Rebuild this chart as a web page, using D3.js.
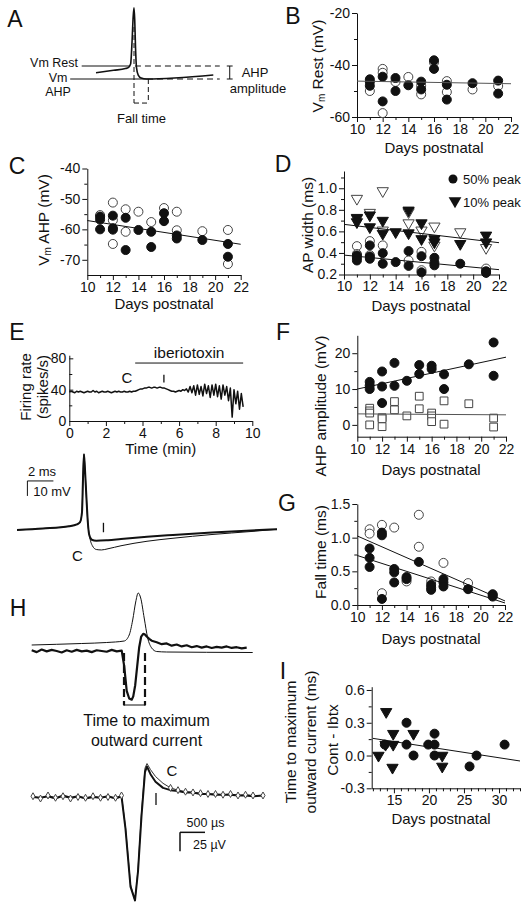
<!DOCTYPE html>
<html><head><meta charset="utf-8">
<script src="https://cdn.jsdelivr.net/npm/d3@7"></script>
<style>body{margin:0;background:#fff}</style>
</head><body>
<script>
// ================= DATA =================
const dayTicks = [10,12,14,16,18,20,22];
const dayMinor = [11,13,15,17,19,21];
// B: Vm rest
const bFilled = [[11,-45.5],[11,-46.5],[11,-48],[12,-44.5],[12,-54],[13,-45],[13,-50],[14,-47.8],[15,-46.4],[15,-49.4],[16,-38.2],[16,-41.5],[17,-47.6],[17,-53.3],[19,-47],[21,-46],[21,-51]];
const bOpen = [[11,-50],[12,-41.5],[12,-43],[12,-58.5],[13,-46.5],[14,-44.6],[15,-48],[15,-51.3],[16,-39],[17,-46.2],[17,-50.4],[19,-49.4],[21,-48.1]];
const bFit = [[10,-46.2],[22,-47.2]];
const bYTicks = [-60,-40,-20];
// C: Vm AHP
const cFilled = [[11,-55.8],[11,-56.8],[11,-60],[12,-55.5],[12,-59.6],[12,-60.1],[13,-56.2],[13,-66.8],[14,-60.2],[15,-60.8],[15,-65.8],[16,-54.7],[16,-57.3],[17,-62],[17,-63],[19,-63.5],[21,-64.8],[21,-69]];
const cOpen = [[11,-55.3],[12,-51.2],[12,-57],[12,-64.8],[13,-53.4],[13,-60.8],[14,-54.2],[15,-57.6],[16,-53],[17,-54.2],[17,-60.3],[19,-60.6],[21,-60.2],[21,-71.4]];
const cFit = [[10,-57.1],[22,-64.9]];
const cYTicks = [-70,-60,-50,-40];
// D: AP width
const dCircFilled = [[11,0.377],[11,0.355],[11,0.33],[12,0.47],[12,0.367],[12,0.346],[13,0.398],[13,0.3],[14,0.315],[15,0.417],[15,0.28],[16,0.37],[16,0.22],[17,0.355],[17,0.31],[17,0.285],[19,0.3],[21,0.23],[21,0.215]];
const dCircOpen = [[11,0.463],[11,0.39],[12,0.51],[12,0.38],[13,0.47],[15,0.33],[16,0.41],[16,0.24],[21,0.255]];
const dTriFilled = [[11,0.727],[11,0.687],[12,0.75],[12,0.64],[13,0.70],[13,0.58],[14,0.594],[15,0.795],[15,0.584],[16,0.677],[16,0.53],[17,0.53],[17,0.5],[19,0.485],[21,0.563],[21,0.5]];
const dTriOpen = [[11,0.904],[11,0.72],[12,0.774],[13,0.975],[13,0.61],[15,0.78],[15,0.677],[16,0.61],[17,0.647],[17,0.47],[19,0.594],[21,0.448]];
const dFitTri = [[10,0.665],[22,0.495]];
const dFitCirc = [[10,0.38],[22,0.245]];
const dYTicks = [0.2,0.4,0.6,0.8,1.0];
const dLegend = ["50% peak","10% peak"];
// E: firing rate (spikes/s) every 0.1 min from 0 to 9.5
const rateStep = 0.1;
const rate = [37,38,37,36,38,37,38,37,36,37, 38,37,37,39,37,38,36,37,38,37, 37,38,37,36,37,38,37,38,37,37,
  38,37,37,38,37,38,38,39,40,41, 41,42,42,43,43,42,43,43,42,43, 43,42,42,41,40,39,38,38,37,38,
  39,38,40,39,41,37,44,36,45,33, 46,34,44,32,47,35,45,30,46,33, 47,31,45,28,46,33,44,26,42,5,
  40,22,38,15,35,18];
const eXTicks = [0,2,4,6,8,10];
const eYTicks = [0,40,80];
// E lower: action potentials (ms, mV)
const apPreT = [0,2,4,4.6,4.85,5.0,5.08,5.15,5.22,5.35,5.45];
const apPreV = [-50,-49,-47.5,-46.3,-44.8,-38,-15,0.5,-8,-30,-45];
const apCT = [5.6,5.8,6.1,6.5,7.0,8,10,12,15,18,20];
const apCV = [-55,-60.5,-63,-63.3,-62.5,-60.5,-57.5,-55.5,-53,-51,-49.5];
const apIT = [5.55,5.75,6.1,7,8,10,12,15,18,20];
const apIV = [-53,-56.5,-57.2,-56.8,-56,-54.5,-53.3,-51.7,-50.3,-49.5];
// F: AHP amplitude
const fFilled = [[11,12.0],[11,11.0],[11,10.0],[12,14.9],[12,10.7],[12,6.1],[13,17.3],[13,10.9],[14,12.3],[15,16.7],[15,14.2],[16,16.5],[16,15.6],[17,14.1],[17,10.0],[19,16.9],[21,23.0],[21,13.7]];
const fOpen = [[11,4.65],[11,3.9],[11,3.3],[11,0],[12,2.0],[12,1.7],[12,-0.5],[13,6.5],[13,4.2],[14,2.5],[15,8.0],[15,4.5],[16,3.3],[16,2.5],[16,0.9],[17,6.7],[17,0.2],[19,5.9],[21,1.9],[21,-0.6]];
const fFitFilled = [[10,10],[22,18.9]];
const fFitOpen = [[10,3.07],[22,2.8]];
const fYTicks = [0,10,20];
// G: fall time
const gOpen = [[11,1.125],[11,1.06],[12,1.19],[12,0.175],[13,1.15],[14,0.35],[15,1.34],[15,0.865],[16,0.35],[17,0.625],[19,0.325],[21,0.15]];
const gFilled = [[11,0.84],[11,0.7],[11,0.565],[12,1.075],[12,1.035],[12,0.09],[13,0.535],[13,0.485],[13,0.335],[14,0.415],[14,0.385],[15,0.64],[16,0.3],[16,0.26],[16,0.225],[17,0.385],[17,0.335],[17,0.275],[19,0.235],[21,0.16],[21,0.125]];
const gFitOpen = [[10,1.025],[22,0.06]];
const gFitFilled = [[10,0.735],[22,0.03]];
const gYTicks = [0,0.5,1.0,1.5];
// H upper: thin AP (mV) and thick extracellular (uV), time in us
const hUpThinT = [0,500,1000,1500,1850,1950,2020,2080,2130,2180,2250,2320,2400,2500,2700,3500,4420];
const hUpThinV = [-55,-54.3,-53.5,-52.5,-51,-45,-30,-12,-3,-8,-28,-48,-58,-61.5,-62,-62.3,-62.5];
const hUpT = [0,100,200,300,400,500,600,700,800,900,1000,1100,1200,1300,1400,1500,1600,1700,1800,
  1850,1900,1950,2000,2030,2070,2110,2150,2190,2230,2260,2300,2350,2400,2450,2500,
  2600,2700,2800,2900,3000,3100,3200,3300,3400,3500,3600,3700,3800,3900,4000,4100,4200,4300];
const hUpV = [2,-3,4,-1,3,0,-4,2,-2,3,-1,1,-3,2,0,-2,3,-1,1,
  -40,-105,-125,-128,-120,-90,-40,10,38,45,44,38,32,27,25,23,
  18,20,14,17,12,15,10,13,9,12,8,11,9,12,8,10,7,9];
const hMarks = [1846,2266];
// H lower: control (C) and iberiotoxin (I), time in us, uV
const hLoT = [0,150,300,450,600,750,900,1050,1200,1350,1500,1650,1770,1850,1950,2040,2100,2170,2240,2280,2350,2450,2600,2750,2900,3050,3200,3350,3500,3650,3800,3950,4100,4250,4400,4600];
const hLoC = [1,-2,2,-1,1,-2,0,-1,1,-1,0,-1,2,-40,-115,-137,-95,-20,38,44,36,27,18,12,9,7,6,5,4,4,3,4,2,3,2,2];
const hLoI = [0,-1,1,-2,2,-1,1,-2,0,-1,1,-2,1,-42,-118,-136,-98,-25,33,40,30,20,12,9,8,6,6,4,4,3,3,3,2,2,1,2];
// I: time to max outward current
const iTri = [[12.8,0.0],[13.9,0.4],[13.8,0.1],[14.9,0.2],[14.9,0.1],[14.8,-0.11],[17.8,0.2],[21.9,0.0],[21.9,-0.1]];
const iCirc = [[13.7,0.1],[16.8,0.3],[16.8,0.1],[17.8,0.0],[19.9,0.1],[20.8,0.2],[20.8,0.1],[20.8,0.0],[25.8,-0.1],[26.8,0.0],[30.8,0.1]];
const iFit = [[12,0.157],[33,-0.05]];
const iXTicks = [15,20,25,30];
const iYTicks = [-0.3,0,0.3,0.6];
// A: schematic AP (ms, mV)
const aT = [0,1.5,2.5,2.75,2.95,3.08,3.17,3.24,3.3,3.37,3.45,3.6,3.85,4.3,10];
const aV = [-65.2,-63.3,-62,-61.3,-58.5,-40,-22,-15.2,-24,-46,-61,-67,-69.3,-70,-66.9];

// ================= DRAW =================
const FONT = '"Liberation Sans", Arial, Helvetica, sans-serif';
const INK = "#111";
const svg = d3.select("body").append("svg").attr("width",527).attr("height",913);

function txt(x,y,s,o={}){
  return svg.append("text").attr("x",x).attr("y",y).text(s)
    .attr("font-size",o.size||14).attr("font-family",FONT)
    .attr("text-anchor",o.anchor||"middle").attr("dominant-baseline","central").attr("fill",INK);
}
function rtxt(x,y,parts,size){
  const t = svg.append("text").attr("transform",`translate(${x},${y}) rotate(-90)`)
    .attr("text-anchor","middle").attr("dominant-baseline","central")
    .attr("font-size",size||15.5).attr("font-family",FONT).attr("fill",INK);
  parts.forEach(p=>{
    const ts = t.append("tspan").text(p.t);
    if(p.sub) ts.attr("font-size",10).attr("dy","0.35em");
    if(p.after) ts.attr("dy","-0.25em");
  });
  return t;
}
function axes(x,y,o){
  const ax = svg.append("g").attr("transform",`translate(0,${y.range()[0]})`)
    .call(d3.axisBottom(x).tickValues(o.xt).tickFormat(o.xf||String).tickSize(5).tickSizeOuter(0).tickPadding(2));
  const ay = svg.append("g").attr("transform",`translate(${x.range()[0]},0)`)
    .call(d3.axisLeft(y).tickValues(o.yt).tickFormat(o.yf||String).tickSize(o.ytick!==undefined?o.ytick:5).tickSizeOuter(0).tickPadding(o.ypad||2));
  [ax,ay].forEach(g=>{
    g.selectAll("text").attr("font-size",14).attr("font-family",FONT).attr("fill",INK);
    g.select(".domain").attr("stroke",INK);
    g.selectAll(".tick line").attr("stroke",INK);
  });
  const ym = o.ytick!==undefined && o.ytick<0 ? 3 : -3;
  if(o.xm) ax.selectAll("line.mn").data(o.xm).join("line").attr("class","mn")
    .attr("x1",d=>x(d)+0.5).attr("x2",d=>x(d)+0.5).attr("y1",0).attr("y2",3).attr("stroke",INK);
  if(o.ym) ay.selectAll("line.mn").data(o.ym).join("line").attr("class","mn")
    .attr("y1",d=>y(d)+0.5).attr("y2",d=>y(d)+0.5).attr("x1",0).attr("x2",ym).attr("stroke",INK);
}
function dots(data,x,y,filled,r=4.5){
  svg.append("g").selectAll("circle").data(data).join("circle")
    .attr("cx",d=>x(d[0])).attr("cy",d=>y(d[1])).attr("r",r)
    .attr("fill",filled?INK:"#fff").attr("stroke",filled?INK:"#444").attr("stroke-width",1);
}
function syms(data,x,y,type,size,filled,rot){
  svg.append("g").selectAll("path").data(data).join("path")
    .attr("d",d3.symbol().type(type).size(size))
    .attr("transform",d=>`translate(${x(d[0])},${y(d[1])}) rotate(${rot||0})`)
    .attr("fill",filled?INK:"#fff").attr("stroke",filled?INK:"#444").attr("stroke-width",1);
}
function fit(data,x,y,col){
  svg.append("path").datum(data).attr("d",d3.line().x(d=>x(d[0])).y(d=>y(d[1])))
    .attr("stroke",col||INK).attr("stroke-width",1).attr("fill","none");
}
function trace(xs,ys,x,y,w,col,curve){
  const pts = xs.map((t,i)=>[t,ys[i]]);
  return svg.append("path").datum(pts)
    .attr("d",d3.line().x(d=>x(d[0])).y(d=>y(d[1])).curve(curve||d3.curveLinear))
    .attr("stroke",col||INK).attr("stroke-width",w).attr("fill","none").attr("stroke-linejoin","round");
}
function seg(x1,y1,x2,y2,o={}){
  return svg.append("line").attr("x1",x1).attr("y1",y1).attr("x2",x2).attr("y2",y2)
    .attr("stroke",INK).attr("stroke-width",o.w||1).attr("stroke-dasharray",o.dash||null);
}
const fmt1 = d=>d.toFixed(1);

// Panel letters
[["A",15,19],["B",293,16],["C",17,166],["D",283,164],["E",17,332],["F",283,332],["G",287,503],["H",18,608],["I",283,671]]
  .forEach(([s,x,y])=>txt(x,y,s,{size:23}));

// ---------- A ----------
{
  const x = d3.scaleLinear().domain([0,10]).range([96,213.3]);
  const y = d3.scaleLinear().domain([-60,-70]).range([66,79]);
  trace(aT,aV,x,y,1.6,INK,d3.curveMonotoneX);
  seg(x(-1.22),y(-60),x(2.9),y(-60));
  seg(x(3.32),y(-60),x(10.55),y(-60),{dash:"6,4"});
  seg(x(-2.2),y(-70),x(4.35),y(-70));
  seg(x(4.35),y(-70),x(10.55),y(-70),{dash:"6,4"});
  seg(x(3.24),y(-30),x(3.24),y(-88.5),{dash:"5,3"});
  seg(x(4.46),y(-70),x(4.46),y(-88.5),{dash:"5,3"});
  seg(x(3.24),y(-88.5),x(4.46),y(-88.5),{dash:"5,3"});
  seg(x(11.4),y(-60),x(11.4),y(-70));
  seg(x(11.15),y(-60),x(11.65),y(-60));
  seg(x(11.15),y(-70),x(11.65),y(-70));
  txt(78,62.5,"Vm Rest",{size:12.5,anchor:"end"});
  txt(58,77.5,"Vm",{size:12.5});
  txt(58,91.5,"AHP",{size:12.5});
  txt(255,72,"AHP",{size:13});
  txt(258,88,"amplitude",{size:13});
  txt(141.5,118,"Fall time",{size:13});
}

// ---------- B ----------
{
  const x = d3.scaleLinear().domain([10,22]).range([357,511]);
  const y = d3.scaleLinear().domain([-60,-20]).range([117,13]);
  axes(x,y,{xt:dayTicks,xm:dayMinor,yt:bYTicks,ym:[-50,-30]});
  dots(bOpen,x,y,false); dots(bFilled,x,y,true);
  fit(bFit,x,y,"#555");
  txt(434,147,"Days postnatal",{size:15});
  rtxt(317,66,[{t:"V"},{t:"m",sub:true},{t:" Rest (mV)",after:true}]);
}

// ---------- C ----------
{
  const x = d3.scaleLinear().domain([10,22]).range([87.3,240.7]);
  const y = d3.scaleLinear().domain([-75,-40]).range([275,168.5]);
  axes(x,y,{xt:dayTicks,xm:dayMinor,yt:cYTicks,ym:[-65,-55,-45]});
  dots(cOpen,x,y,false); dots(cFilled,x,y,true);
  fit(cFit,x,y);
  txt(164,303,"Days postnatal",{size:15});
  rtxt(43,220,[{t:"V"},{t:"m",sub:true},{t:" AHP (mV)",after:true}]);
}

// ---------- D ----------
{
  const x = d3.scaleLinear().domain([10,22]).range([344,499]);
  const y = d3.scaleLinear().domain([0.2,1.16]).range([274.5,171]);
  axes(x,y,{xt:dayTicks,xm:dayMinor,yt:dYTicks,yf:fmt1,ym:[0.3,0.5,0.7,0.9,1.1]});
  dots(dCircOpen,x,y,false); dots(dCircFilled,x,y,true);
  syms(dTriOpen,x,y,d3.symbolTriangle,55,false,180);
  syms(dTriFilled,x,y,d3.symbolTriangle,55,true,180);
  fit(dFitTri,x,y); fit(dFitCirc,x,y);
  txt(421,305,"Days postnatal",{size:15});
  rtxt(307,225,[{t:"AP width (ms)"}]);
  svg.append("circle").attr("cx",453).attr("cy",179).attr("r",4.5).attr("fill",INK);
  svg.append("path").attr("d",d3.symbol().type(d3.symbolTriangle).size(70)).attr("transform","translate(455,201) rotate(180)").attr("fill",INK);
  txt(463,179,dLegend[0],{size:13,anchor:"start"});
  txt(463,202,dLegend[1],{size:13,anchor:"start"});
}

// ---------- E upper ----------
{
  const x = d3.scaleLinear().domain([0,10]).range([69.3,252.3]);
  const y = d3.scaleLinear().domain([0,84]).range([421,355.2]);
  axes(x,y,{xt:eXTicks,xm:[1,3,5,7,9],yt:eYTicks,ym:[20,60],ytick:-4,ypad:3});
  trace(rate.map((d,i)=>i*rateStep),rate,x,y,1.5);
  seg(x(3.6),y(74),x(9.5),y(74));
  txt(x(6.55),y(88),"iberiotoxin",{size:15.5});
  txt(x(3.15),y(55),"C",{size:15});
  seg(x(5.17),y(59),x(5.17),y(49),{w:1.3});
  txt(160.8,448,"Time (min)",{size:15});
  rtxt(25,387,[{t:"Firing rate"}],15);
  rtxt(42,387,[{t:"(spikes/s)"}],15);
}

// ---------- E lower ----------
{
  const x = d3.scaleLinear().domain([0,20]).range([17,277]);
  const y = d3.scaleLinear().domain([-50,0]).range([530,455]);
  trace(apPreT.concat(apCT),apPreV.concat(apCV),x,y,1,INK,d3.curveMonotoneX);
  trace(apPreT.concat(apIT),apPreV.concat(apIV),x,y,2,INK,d3.curveMonotoneX);
  // scale bar 2 ms / 10 mV
  seg(x(0.8),y(-17.3),x(2.8),y(-17.3));
  seg(x(0.8),y(-17.3),x(0.8),y(-27.3));
  txt(42,471,"2 ms",{size:13});
  txt(52,491.5,"10 mV",{size:13});
  seg(x(6.65),y(-45.2),x(6.65),y(-51.5),{w:1.3});
  txt(77.5,555,"C",{size:15});
}

// ---------- F ----------
{
  const x = d3.scaleLinear().domain([10,22]).range([357.3,506]);
  const y = d3.scaleLinear().domain([-3.3,25]).range([436.7,335.3]);
  axes(x,y,{xt:dayTicks,xm:dayMinor,yt:fYTicks,ym:[5,15]});
  syms(fOpen,x,y,d3.symbolSquare,60,false,0);
  dots(fFilled,x,y,true);
  fit(fFitFilled,x,y); fit(fFitOpen,x,y,"#555");
  txt(431,469,"Days postnatal",{size:15});
  rtxt(319.5,406,[{t:"AHP amplitude (mV)"}]);
}

// ---------- G ----------
{
  const x = d3.scaleLinear().domain([10,22]).range([357.3,505]);
  const y = d3.scaleLinear().domain([0,1.5]).range([605,504]);
  axes(x,y,{xt:dayTicks,xm:dayMinor,yt:gYTicks,yf:fmt1,ym:[0.25,0.75,1.25]});
  dots(gOpen,x,y,false); dots(gFilled,x,y,true);
  fit(gFitOpen,x,y); fit(gFitFilled,x,y);
  txt(431,638,"Days postnatal",{size:15});
  rtxt(319.5,552,[{t:"Fall time (ms)"}]);
}

// ---------- H ----------
{
  const x = d3.scaleLinear().domain([0,1000]).range([31.7,81.7]);
  const yThin = d3.scaleLinear().domain([-55,0]).range([645,590]);
  const yUp = d3.scaleLinear().domain([0,100]).range([651,613]);
  trace(hUpThinT,hUpThinV,x,yThin,1,INK,d3.curveMonotoneX);
  trace(hUpT,hUpV,x,yUp,2.2);
  hMarks.forEach(t=>seg(x(t),yUp(-5),x(t),705,{w:2.2,dash:"8,4"}));
  seg(x(hMarks[0]),705,x(hMarks[1]),705);
  seg(x(hMarks[0]),701,x(hMarks[0]),706);
  seg(x(hMarks[1]),701,x(hMarks[1]),706);
  txt(146.5,720,"Time to maximum",{size:16});
  txt(146.5,740,"outward current",{size:16});

  const xl = d3.scaleLinear().domain([0,1000]).range([33,83]);
  const yl = d3.scaleLinear().domain([0,25]).range([797,778]);
  trace(hLoT,hLoC,xl,yl,1,"#333");
  trace(hLoT,hLoI,xl,yl,2);
  const mk = hLoT.map((t,i)=>[t,hLoC[i]]).filter(d=>d[0]<1800||d[0]>2700);
  syms(mk,xl,yl,d3.symbolDiamond,14,false,0);
  txt(172,770,"C",{size:15});
  seg(156,793,156,805,{w:1.3});
  // scale bar 500 us / 25 uV
  seg(xl(2940),yl(-46.5),xl(3440),yl(-46.5),{w:1.5});
  seg(xl(2940),yl(-46.5),xl(2940),yl(-71.5),{w:1.5});
  txt(205.5,823,"500 µs",{size:12.5});
  txt(193,845,"25 µV",{size:12.5,anchor:"start"});
}

// ---------- I ----------
{
  const x = d3.scaleLinear().domain([11.83,33]).range([371.7,520]);
  const y = d3.scaleLinear().domain([-0.3,0.63]).range([788.3,686.7]);
  axes(x,y,{xt:iXTicks,xm:d3.range(12,34).filter(d=>d%5),yt:iYTicks,yf:fmt1,ym:[-0.15,0.15,0.45]});
  syms(iTri,x,y,d3.symbolTriangle,55,true,180);
  dots(iCirc,x,y,true);
  fit(iFit,x,y);
  txt(441,818,"Days postnatal",{size:15});
  rtxt(290,742,[{t:"Time to maximum"}]);
  rtxt(310,742,[{t:"outward current (ms)"}]);
  rtxt(331.5,740,[{t:"Cont - Ibtx"}]);
}
</script>
</body></html>
